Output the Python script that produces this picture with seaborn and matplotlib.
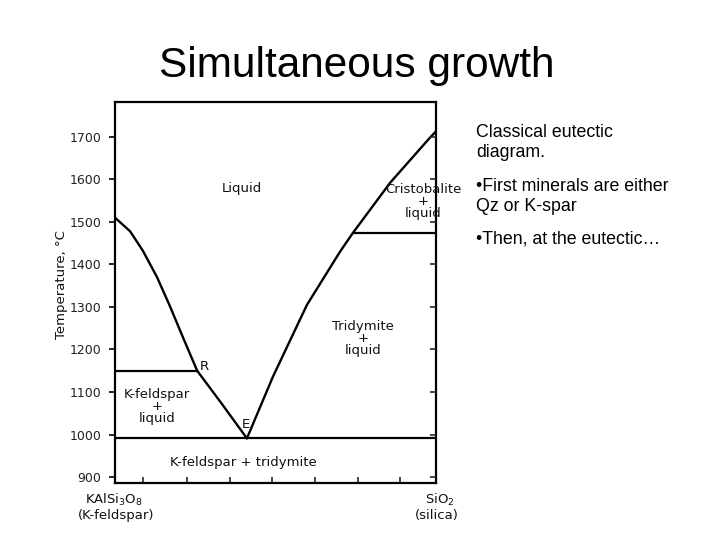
import matplotlib
matplotlib.use("Agg")
import matplotlib.pyplot as plt
import seaborn as sns
import pandas as pd

# ---- data ----
left_x = [0, 4.7, 8.7, 13.1, 17.1, 21.2, 25.6]            # K-feldspar liquidus to R
left_t = [1510, 1478, 1432, 1370, 1302, 1228, 1150]
mid_x = [25.6, 33.3, 41.1]                                 # R to eutectic E
mid_t = [1150, 1072, 991]
right_x = [41.1, 49.2, 59.8, 70.1, 74.1, 85.7, 98.1, 100]  # silica liquidus
right_t = [991, 1136, 1305, 1430, 1474, 1592, 1698, 1713]

hline_t = [1150, 991, 1474]        # R line, eutectic line, cristobalite/tridymite
hline_x0 = [0, 0, 74.1]
hline_x1 = [25.6, 100, 100]

y_ticks = [900, 1000, 1100, 1200, 1300, 1400, 1500, 1600, 1700]
x_ticks = [8.7, 22.4, 35.7, 49.0, 62.3, 75.6, 88.9]

region_labels = ["Liquid", "Cristobalite\n+\nliquid", "Tridymite\n+\nliquid",
                 "K-feldspar\n+\nliquid", "K-feldspar + tridymite", "R", "E"]
region_x = [39.6, 96.0, 77.3, 13.2, 39.9, 27.9, 40.8]
region_t = [1578, 1549, 1226, 1066, 934, 1160, 1024]

title = "Simultaneous growth"
notes = ["Classical eutectic", "diagram.", "\u2022First minerals are either",
         "Qz or K-spar", "\u2022Then, at the eutectic\u2026"]

# ---- figure ----
sns.set_theme(style="white")
plt.rcParams["font.family"] = ["DejaVu Sans"]
fig = plt.figure(figsize=(7.2, 5.4), dpi=100)
ax = fig.add_axes([115/720, 1-483/540, 321/720, 381/540])

curves = pd.concat([
    pd.DataFrame({"x": left_x, "t": left_t, "seg": "left"}),
    pd.DataFrame({"x": mid_x, "t": mid_t, "seg": "mid"}),
    pd.DataFrame({"x": right_x, "t": right_t, "seg": "right"}),
])
sns.lineplot(data=curves, x="x", y="t", units="seg", estimator=None, sort=False,
             color="black", lw=1.7, ax=ax, legend=False)
ax.hlines(hline_t, hline_x0, hline_x1, color="black", lw=1.6)

ax.set_xlim(0, 100)
ax.set_ylim(886, 1782)
ax.set_xlabel("")
ax.set_ylabel("")
for s in ["left", "right", "top", "bottom"]:
    ax.spines[s].set_color("black")
    ax.spines[s].set_linewidth(1.6)

lab_kw = dict(color="#111111")

ax.set_yticks(y_ticks)
ax.set_yticklabels([str(v) for v in y_ticks], fontsize=9, color="#222222")
ax.tick_params(axis="y", which="major", left=True, right=False, direction="out",
               length=4, width=1.2, pad=6, colors="black", labelcolor="#222222")
ax.set_xticks(x_ticks)
ax.set_xticklabels([])
ax.tick_params(axis="x", bottom=True, direction="in", length=4, width=1.2)
# right ticks pointing inwards
ax2 = ax.twinx()
ax2.set_ylim(ax.get_ylim())
ax2.set_yticks(y_ticks)
ax2.set_yticklabels([])
ax2.tick_params(axis="y", direction="in", length=4, width=1.2, right=True)
for s in ax2.spines.values():
    s.set_visible(False)

for lab, xx, tt in zip(region_labels, region_x, region_t):
    ax.text(xx, tt, lab, ha="center", va="center", fontsize=9.5,
            linespacing=0.9, clip_on=False, **lab_kw)

fig.text(62/720, 1-285/540, "Temperature, \u00b0C", rotation=90, ha="center",
         va="center", fontsize=9.5, **lab_kw)
fig.text(114/720, 1-500/540, "KAlSi$_3$O$_8$", ha="center", va="center",
         fontsize=9.5, **lab_kw)
fig.text(116/720, 1-515/540, "(K-feldspar)", ha="center", va="center",
         fontsize=9.5, **lab_kw)
fig.text(440/720, 1-500/540, "SiO$_2$", ha="center", va="center",
         fontsize=9.5, **lab_kw)
fig.text(437/720, 1-515/540, "(silica)", ha="center", va="center",
         fontsize=9.5, **lab_kw)

fig.text(357/720, 1-77/540, title, ha="center", va="baseline",
         fontsize=30.5, family="Liberation Sans", color="black")
baselines = [137, 157, 191, 211, 243]
for line, yb in zip(notes, baselines):
    fig.text(476/720, 1-yb/540, line, ha="left", va="baseline",
             fontsize=12.8, family="Liberation Sans", color="black")

fig.savefig("out.png", dpi=100)
